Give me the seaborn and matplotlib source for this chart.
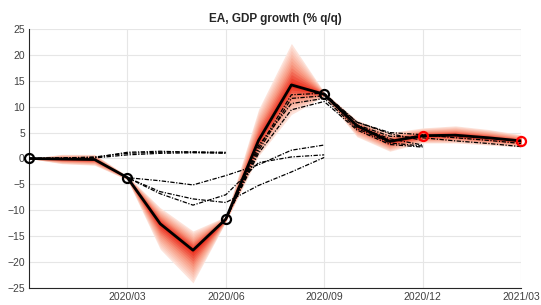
import numpy as np
import pandas as pd
import matplotlib
matplotlib.use("Agg")
import matplotlib.pyplot as plt
import seaborn as sns

# monthly grid, 2019/12 .. 2021/03
months = ["2019/12", "2020/01", "2020/02", "2020/03", "2020/04", "2020/05",
          "2020/06", "2020/07", "2020/08", "2020/09", "2020/10", "2020/11",
          "2020/12", "2021/01", "2021/02", "2021/03"]
tick_labels = ["2020/03", "2020/06", "2020/09", "2020/12", "2021/03"]

# central path and outer edges of the fan
gdp_path = [0.0, -0.1, -0.2, -3.7, -12.6, -17.7, -11.7, 3.5, 14.2, 12.4,
            6.3, 3.3, 4.4, 4.5, 4.0, 3.4]
fan_hi = [0.0, 0.8, 0.8, -3.4, -9.5, -14.0, -11.2, 9.5, 22.2, 12.8,
          7.4, 5.0, 5.9, 6.3, 5.6, 4.6]
fan_lo = [0.0, -1.0, -1.3, -4.1, -17.5, -24.0, -12.2, 0.5, 8.5, 12.0,
          4.2, 1.4, 3.0, 3.0, 2.6, 2.2]

# quarterly outturns (black) and forecast points (red)
actual_idx = [0, 3, 6, 9]
forecast_idx = [12, 15]

# earlier vintages (dash-dot), each with its starting month index
vint_a1 = [0.0, 0.1, 0.3, 1.0, 1.2, 1.3, 1.2]
vint_a2 = [0.0, 0.0, 0.2, 1.2, 1.4, 1.2, 1.0]
vint_a3 = [0.0, 0.1, 0.1, 0.7, 1.0, 1.1, 1.1]
vint_b1 = [-3.7, -4.3, -5.1, -3.3, -1.2, 1.6, 2.6]
vint_b2 = [-3.7, -6.8, -9.0, -7.0, -0.8, 0.3, 0.7]
vint_b3 = [-3.7, -6.4, -7.8, -8.5, -5.2, -2.6, 0.2]
vint_c1 = [-11.7, 2.0, 12.3, 12.6, 7.0, 4.8, 3.5]
vint_c2 = [-11.7, 1.5, 11.6, 12.1, 6.2, 3.8, 2.6]
vint_c3 = [-11.7, 2.5, 10.6, 11.6, 5.8, 3.0, 2.4]
vint_c4 = [-11.7, 1.0, 9.4, 11.0, 5.5, 2.7, 2.2]
vint_d1 = [12.4, 7.0, 5.0, 4.6, 4.0, 3.5, 2.9]
vint_d2 = [12.4, 6.5, 4.3, 4.0, 3.4, 2.9, 2.3]
vintages = [(0, vint_a1), (0, vint_a2), (0, vint_a3),
            (3, vint_b1), (3, vint_b2), (3, vint_b3),
            (6, vint_c1), (6, vint_c2), (6, vint_c3), (6, vint_c4),
            (9, vint_d1), (9, vint_d2)]

sns.set_style("whitegrid")
plt.rcParams["font.family"] = ["Liberation Sans", "DejaVu Sans"]

fig = plt.figure(figsize=(5.41, 3.05), dpi=100)
ax = fig.add_axes([0.0536, 0.0557, 0.9094, 0.8493])

x = np.arange(len(months))
mid = np.array(gdp_path)
hi = np.array(fan_hi)
lo = np.array(fan_lo)

# fan: outer (light) to inner (dark)
n_layers = 12
fan_cols = sns.blend_palette(["#fde3da", "#f89c84", "#ec2f1e"], n_layers)
for k in range(n_layers):
    frac = 1 - k / n_layers
    ax.fill_between(x, mid + frac * (lo - mid), mid + frac * (hi - mid),
                    color=fan_cols[k], lw=0, zorder=1)

for start, vals in vintages:
    sns.lineplot(x=x[start:start + len(vals)], y=vals, ax=ax, color="black",
                 lw=0.9, linestyle=(0, (3.5, 1.2, 1, 1.2)), zorder=3)

sns.lineplot(x=x, y=mid, ax=ax, color="black", lw=2, zorder=4)
ax.plot(x[actual_idx], mid[actual_idx], "o", ms=6.5, mfc="none", mec="black",
        mew=1.6, zorder=5, clip_on=False)
ax.plot(x[forecast_idx], mid[forecast_idx], "o", ms=6.5, mfc="none", mec="red",
        mew=1.6, zorder=5, clip_on=False)

ax.set_xlim(0, 15)
ax.set_ylim(-25, 25)
ax.set_xticks([months.index(t) for t in tick_labels])
ax.set_xticklabels(tick_labels)
ax.set_yticks(range(-25, 30, 5))
ax.grid(True, color="#e6e6e6", lw=0.8)
ax.set_axisbelow(True)
for side in ["top", "right"]:
    ax.spines[side].set_visible(False)
for side in ["left", "bottom"]:
    ax.spines[side].set_color("#262626")
    ax.spines[side].set_linewidth(0.8)
ax.tick_params(direction="in", length=3, width=0.6, color="#262626",
               labelsize=7.5, labelcolor="#404040", pad=3)
ax.set_title("EA, GDP growth (% q/q)", fontsize=8.5, fontweight="bold", pad=5)
ax.set_xlabel("")
ax.set_ylabel("")

fig.savefig("out.png", dpi=100)
